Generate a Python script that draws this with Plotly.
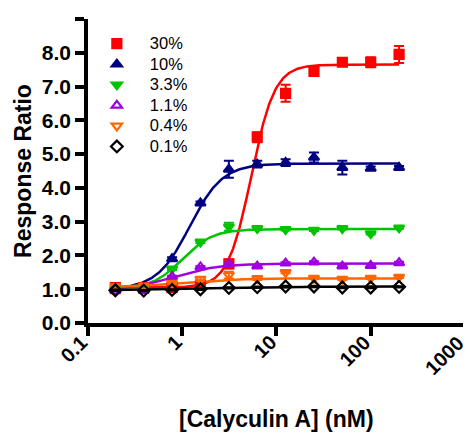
import numpy as np
import plotly.graph_objects as go

# ---- data ----
conc = [0.195, 0.39, 0.78, 1.56, 3.125, 6.25, 12.5, 25, 50, 100, 200]
series_names = ["30%", "10%", "3.3%", "1.1%", "0.4%", "0.1%"]
y_30 = [1.05, 1.05, 1.05, 1.12, 1.75, 5.5, 6.8, 7.45, 7.72, 7.72, 7.95]
y_10 = [1.0, 1.05, 1.9, 3.55, 4.55, 4.7, 4.75, 4.9, 4.6, 4.58, 4.6]
y_3_3 = [1.0, 1.05, 1.6, 2.4, 2.85, 2.8, 2.77, 2.75, 2.8, 2.65, 2.82]
y_1_1 = [0.95, 0.96, 1.37, 1.66, 1.74, 1.68, 1.77, 1.8, 1.68, 1.7, 1.78]
y_0_4 = [1.07, 1.1, 1.18, 1.3, 1.42, 1.32, 1.5, 1.33, 1.3, 1.33, 1.36]
y_0_1 = [0.97, 0.96, 0.98, 1.0, 1.04, 1.06, 1.08, 1.08, 1.05, 1.05, 1.07]

e_30 = [0.05, 0.05, 0.05, 0.05, 0.13, 0.15, 0.25, 0.1, 0.1, 0.15, 0.25]
e_10 = [0.05, 0.05, 0.05, 0.05, 0.25, 0.1, 0.1, 0.15, 0.2, 0.05, 0.05]
e_3_3 = [0.03, 0.03, 0.03, 0.03, 0.12, 0.05, 0.03, 0.03, 0.03, 0.03, 0.03]
e_1_1 = [0.03] * 11
e_0_4 = [0.08, 0.03, 0.03, 0.05, 0.1, 0.05, 0.03, 0.03, 0.03, 0.03, 0.03]
e_0_1 = [0.02] * 11

# four-parameter logistic fit parameters (bottom, top, EC50, hill)
fit_bottom = [1.05, 1.0, 1.0, 0.96, 1.05, 0.97]
fit_top = [7.65, 4.72, 2.78, 1.76, 1.32, 1.08]
fit_ec50 = [5.4, 1.2, 1.0, 0.8, 0.9, 2.0]
fit_hill = [3.5, 2.5, 2.7, 1.8, 1.5, 1.0]

x_ticks = [0.1, 1, 10, 100, 1000]
x_ticklabels = ["0.1", "1", "10", "100", "1000"]
y_ticks = [0, 1, 2, 3, 4, 5, 6, 7, 8, 9]
y_ticklabels = ["0.0", "1.0", "2.0", "3.0", "4.0", "5.0", "6.0", "7.0", "8.0", "9.0"]
x_title = "[Calyculin A] (nM)"
y_title = "Response Ratio"

# ---- styles ----
colors = ["#FF0000", "#000080", "#00C400", "#A000E0", "#FF6600", "#000000"]
symbols = ["square", "triangle-up", "triangle-down", "triangle-up-open",
           "triangle-down-open", "diamond-open"]
ys = [y_30, y_10, y_3_3, y_1_1, y_0_4, y_0_1]
es = [e_30, e_10, e_3_3, e_1_1, e_0_4, e_0_1]

FONT = "Arial, 'Liberation Sans', sans-serif"

fig = go.Figure()
xfit = np.logspace(np.log10(conc[0]), np.log10(conc[-1]), 300)
for i in range(6):
    b, t, ec, h = fit_bottom[i], fit_top[i], fit_ec50[i], fit_hill[i]
    yfit = b + (t - b) / (1 + (ec / xfit) ** h)
    fig.add_trace(go.Scatter(x=xfit, y=yfit, mode="lines",
                             line=dict(color=colors[i], width=2.5),
                             showlegend=False, hoverinfo="skip"))
for i in range(6):
    fig.add_trace(go.Scatter(
        x=conc, y=ys[i], mode="markers",
        name=f"<span style='font-size:16.5px'>{series_names[i]}</span>",
        marker=dict(symbol=symbols[i], color=colors[i], size=9,
                    line=dict(color=colors[i], width=2.2)),
        error_y=dict(type="data", array=es[i], color=colors[i],
                     thickness=2, width=5),
    ))

# rotated x tick labels placed at the axis ticks (log axis -> log10 positions)
for v, lab in zip(x_ticks, x_ticklabels):
    fig.add_annotation(
        x=np.log10(v), xref="x", y=0, yref="paper",
        text=f"<b>{lab}</b>", showarrow=False, textangle=-45,
        xanchor="right", yanchor="top", xshift=5, yshift=-7,
        font=dict(size=20, family=FONT, color="black"),
        borderpad=0,
    )
# x-axis title
fig.add_annotation(
    x=0.5, xref="paper", y=-0.316, yref="paper",
    text=f"<b>{x_title}</b>", showarrow=False,
    xanchor="center", yanchor="middle",
    font=dict(size=23, family=FONT, color="black"), borderpad=0,
)

# page body has an 8px margin, so the figure is sized/offset to compensate
fig.update_layout(
    width=463, height=425,
    margin=dict(l=80, r=6, t=11, b=110),
    paper_bgcolor="white", plot_bgcolor="white",
    font=dict(family=FONT, color="black"),
    legend=dict(x=-0.011, y=0.969, xanchor="left", yanchor="top",
                font=dict(size=13.5, family=FONT), tracegroupgap=0,
                bgcolor="rgba(0,0,0,0)", itemwidth=56),
    showlegend=True,
)
fig.update_xaxes(
    type="log", range=[-1, 3.0005], tickvals=x_ticks, showticklabels=False,
    showgrid=False, zeroline=False, automargin=False,
    showline=True, linecolor="black", linewidth=3.5,
    ticks="outside", ticklen=9, tickwidth=3.5, tickcolor="black",
)
fig.update_yaxes(
    range=[0, 9], tickvals=y_ticks, ticktext=y_ticklabels,
    showgrid=False, zeroline=False, automargin=False,
    showline=True, linecolor="black", linewidth=3.5,
    ticks="outside", ticklen=9, tickwidth=3.5, tickcolor="black",
    tickfont=dict(size=21, family=FONT, weight="bold"),
    title=dict(text=f"<b>{y_title}</b>", font=dict(size=23, family=FONT),
               standoff=5),
)

fig.write_html("out.html")
